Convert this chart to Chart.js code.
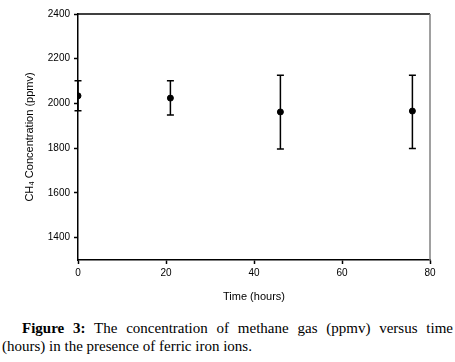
<!DOCTYPE html>
<html>
<head>
<meta charset="utf-8">
<script src="https://cdn.jsdelivr.net/npm/chart.js@4/dist/chart.umd.min.js"></script>
<style>
  html, body { margin: 0; padding: 0; background: #fff; width: 455px; height: 362px; overflow: hidden; }
  #wrap { position: absolute; left: 0; top: 0; width: 455px; height: 310px; }
  #caption { position: absolute; left: 2px; top: 319px; width: 451px; font-family: "Liberation Serif", "Times New Roman", serif; font-size: 15px; line-height: 18px; text-align: justify; text-indent: 20px; color: #000; }
</style>
</head>
<body>
<div id="wrap"><canvas id="c" width="455" height="310"></canvas></div>
<div id="caption"><b>Figure 3:</b> The concentration of methane gas (ppmv) versus time (hours) in the presence of ferric iron ions.</div>
<script>
const timeHours = [0, 21, 46, 76];
const ch4Mean = [2034, 2024, 1962, 1966];
const errHigh = [2101, 2102, 2126, 2126];
const errLow = [1967, 1948, 1796, 1799];
const yTicks = [1400, 1600, 1800, 2000, 2200, 2400];
const xTicks = [0, 20, 40, 60, 80];

const errorBars = {
  id: 'errorBars',
  afterDatasetsDraw(chart) {
    const ctx = chart.ctx, xs = chart.scales.x, ys = chart.scales.y;
    ctx.save();
    ctx.strokeStyle = '#000';
    ctx.lineWidth = 1.5;
    timeHours.forEach((t, i) => {
      const px = xs.getPixelForValue(t);
      const hi = ys.getPixelForValue(errHigh[i]);
      const lo = ys.getPixelForValue(errLow[i]);
      ctx.beginPath();
      ctx.moveTo(px, hi); ctx.lineTo(px, lo);
      ctx.moveTo(px - 3.5, hi); ctx.lineTo(px + 3.5, hi);
      ctx.moveTo(px - 3.5, lo); ctx.lineTo(px + 3.5, lo);
      ctx.stroke();
    });
    ctx.restore();
  }
};
const frame = {
  id: 'frame',
  beforeDatasetsDraw(chart) {
    const {ctx, chartArea: a} = chart;
    ctx.save();
    ctx.lineWidth = 1.5;
    ctx.strokeStyle = '#000';
    ctx.beginPath(); ctx.moveTo(a.left, a.top); ctx.lineTo(a.right, a.top); ctx.stroke();
    ctx.strokeStyle = '#808080';
    ctx.beginPath(); ctx.moveTo(a.right, a.top); ctx.lineTo(a.right, a.bottom); ctx.stroke();
    ctx.restore();
  }
};

new Chart(document.getElementById('c'), {
  type: 'scatter',
  data: {
    datasets: [{
      data: timeHours.map((t, i) => ({x: t, y: ch4Mean[i]})),
      backgroundColor: '#000',
      borderColor: '#000',
      pointRadius: 3,
      pointHoverRadius: 3
    }]
  },
  options: {
    responsive: false,
    animation: false,
    events: [],
    layout: { padding: { top: 14, right: 25, left: 0, bottom: 0 } },
    plugins: { legend: { display: false }, tooltip: { enabled: false } },
    scales: {
      x: {
        type: 'linear', min: 0, max: 80,
        afterBuildTicks(s) { s.ticks = xTicks.map(v => ({value: v})); },
        afterFit(s) { s.height = 50; },
        grid: { drawOnChartArea: false, drawTicks: true, tickLength: 4, tickColor: '#000', tickWidth: 1.5 },
        border: { color: '#000', width: 1.5 },
        ticks: { color: '#000', font: { family: 'Liberation Sans, Arial', size: 10 }, padding: 3, maxRotation: 0, callback: v => String(v) },
        title: { display: true, text: 'Time (hours)', color: '#000', font: { family: 'Liberation Sans, Arial', size: 11 }, padding: { top: 0, bottom: 6 } }
      },
      y: {
        type: 'linear', min: 1300, max: 2400,
        afterBuildTicks(s) { s.ticks = yTicks.map(v => ({value: v})); },
        afterFit(s) { s.width = 78; },
        grid: { drawOnChartArea: false, drawTicks: true, tickLength: 4, tickColor: '#000', tickWidth: 1.5 },
        border: { color: '#000', width: 1.5 },
        ticks: { color: '#000', font: { family: 'Liberation Sans, Arial', size: 10 }, padding: 4, callback: v => String(v) },
        title: { display: true, text: 'CH\u2084 Concentration (ppmv)', color: '#000', font: { family: 'Liberation Sans, Arial', size: 11 }, padding: { top: 23, bottom: 0 } }
      }
    }
  },
  plugins: [frame, errorBars]
});
</script>
</body>
</html>
